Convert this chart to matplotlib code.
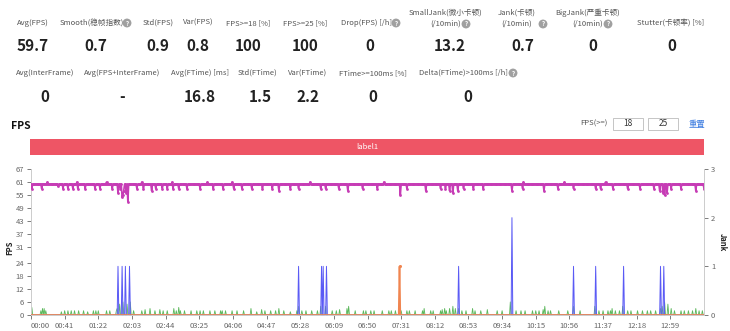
import numpy as np
import matplotlib.pyplot as plt
from matplotlib.patches import Rectangle

plt.rcParams['font.family'] = ['Noto Sans CJK SC', 'DejaVu Sans']

W, H = 730, 331

# summary numbers
row1_labels = ['Avg(FPS)', 'Smooth(稳帧指数)', 'Std(FPS)', 'Var(FPS)', 'FPS>=18 [%]', 'FPS>=25 [%]',
               'Drop(FPS) [/h]', 'SmallJank(微小卡顿)\n(/10min)', 'Jank(卡顿)\n(/10min)',
               'BigJank(严重卡顿)\n(/10min)', 'Stutter(卡顿率) [%]']
row1_values = ['59.7', '0.7', '0.9', '0.8', '100', '100', '0', '13.2', '0.7', '0', '0']
row2_labels = ['Avg(InterFrame)', 'Avg(FPS+InterFrame)', 'Avg(FTime) [ms]', 'Std(FTime)',
               'Var(FTime)', 'FTime>=100ms [%]', 'Delta(FTime)>100ms [/h]']
row2_values = ['0', '-', '16.8', '1.5', '2.2', '0', '0']

# chart data (seconds from start)
time_labels = ['00:00', '00:41', '01:22', '02:03', '02:44', '03:25', '04:06', '04:47', '05:28', '06:09',
               '06:50', '07:31', '08:12', '08:53', '09:34', '10:15', '10:56', '11:37', '12:18', '12:59']
duration = 820
fps_base = 60
fps_dip_t = [1, 13, 33, 39, 45, 51, 57, 66, 78, 84, 99, 106, 109, 111, 112, 113, 116, 118, 129, 137,
             147, 152, 160, 166, 173, 180, 190, 206, 222, 234, 247, 257, 269, 282, 294, 302, 316, 326,
             353, 359, 375, 386, 404, 422, 450, 458, 481, 499, 505, 510, 514, 520, 527, 539, 551, 586,
             599, 625, 642, 661, 688, 694, 709, 727, 742, 759, 766, 770, 772, 775, 780, 792, 810, 820,
             20, 56, 92, 135, 172, 215, 245, 340, 430, 600, 650, 700]
fps_dip_v = [58, 58, 59, 58, 58, 58, 58, 58, 58, 58, 58, 56, 58, 54, 55, 57, 56, 52, 58, 58,
             57, 58, 58, 58, 58, 58, 58, 58, 58, 58, 58, 58, 58, 58, 58, 57, 58, 58,
             58, 58, 58, 57, 58, 58, 55, 58, 57, 58, 58, 57, 56, 57, 58, 58, 58, 57,
             58, 57, 58, 58, 58, 58, 58, 58, 58, 58, 57, 56, 55, 56, 58, 58, 57, 58,
             61, 61, 61, 61, 61, 61, 61, 61, 61, 61, 61, 61]

jank_t = [106, 111, 115, 120, 326, 354, 356, 360, 521, 586, 661, 688, 722, 767, 771]
jank_v = [1, 1, 1, 1, 1, 1, 1, 1, 1, 2, 1, 1, 1, 1, 1]

big_t = [449]
big_v = [1]

green_t = [1, 12, 14, 16, 18, 37, 41, 45, 49, 53, 58, 64, 69, 76, 79, 82, 92, 96, 104, 105, 108, 112,
           117, 121, 125, 135, 139, 145, 151, 157, 161, 166, 174, 177, 180, 182, 187, 195, 202, 206,
           210, 218, 224, 231, 233, 237, 245, 251, 259, 268, 275, 281, 285, 292, 298, 302, 308, 316,
           324, 326, 330, 335, 342, 349, 353, 359, 367, 372, 376, 385, 387, 395, 405, 408, 414, 418,
           428, 436, 439, 444, 451, 458, 461, 468, 477, 479, 487, 490, 499, 501, 504, 506, 510, 514,
           517, 521, 525, 530, 538, 541, 548, 556, 568, 574, 584, 591, 597, 602, 611, 615, 619, 624,
           626, 630, 633, 643, 654, 661, 669, 687, 692, 697, 703, 706, 708, 712, 717, 721, 727, 731,
           739, 745, 751, 755, 761, 767, 769, 772, 776, 780, 784, 792, 796, 801, 806, 810, 814, 818]
green_v = [3.5, 2, 3, 3, 2, 1.5, 2, 2, 2, 2, 2, 2, 1.5, 2, 2, 2, 2, 2, 2, 3, 5, 6,
           5, 6, 2, 2, 2.5, 3, 2, 2.5, 2, 2, 3, 2, 3.5, 2, 2, 2, 2, 2,
           2, 2, 2, 2, 2, 2, 2, 2, 2, 3, 1.5, 2.5, 2, 2, 2, 3, 2, 1.5,
           2, 4, 2, 2, 2, 2, 4, 4, 2, 2, 2.5, 3, 4, 2, 2, 2, 2, 2,
           2, 2, 2, 2, 2, 2, 2, 2, 2, 3, 2, 2, 2, 2.5, 3, 2, 3, 4,
           3, 3, 2, 2, 3, 2, 2, 2.5, 2, 2, 6, 2, 2, 2, 2, 2, 2, 2.5,
           4, 2, 2, 2, 2, 4, 2, 4, 2, 2, 2, 2, 3, 2, 2, 4, 2, 2,
           2, 2, 2, 2, 2, 3, 4, 6, 5, 3, 2, 2, 2, 2, 2, 3, 2, 2]

fps_ticks = [0, 6, 12, 18, 24, 31, 37, 43, 49, 55, 61, 67]
jank_ticks = [0, 1, 2, 3]

# build per-second series
t = np.arange(duration + 1)
fps = np.full(t.shape, fps_base, dtype=float)
fps[fps_dip_t] = fps_dip_v
jank = np.zeros(t.shape)
jank[jank_t] = jank_v
big = np.zeros(t.shape)
big[big_t] = big_v
green = np.zeros(t.shape)
green[green_t] = green_v


def fx(x):
    return x / W


def fy(y):
    return 1 - y / H


fig = plt.figure(figsize=(W / 100, H / 100), dpi=100)

lab_c = '#555555'
val_c = '#222222'
icon = dict(boxstyle='circle,pad=0.15', fc='#a0a0a0', ec='none')


def help_icon(x, y):
    fig.text(fx(x), fy(y), '?', fontsize=4.5, color='white', ha='center', va='center',
             fontweight='bold', bbox=icon)


def label(x, y, txt):
    lines = txt.split('\n')
    if len(lines) == 1:
        fig.text(fx(x), fy(y), txt, fontsize=5.5, color=lab_c, ha='center', va='center')
    else:
        fig.text(fx(x), fy(y - 10), lines[0], fontsize=5.5, color=lab_c, ha='center', va='center')
        fig.text(fx(x), fy(y + 1), lines[1], fontsize=5.5, color=lab_c, ha='center', va='center')


row1_x = [33, 92, 158, 198, 248, 305, 366, 446, 517, 588, 671]
row1_val_x = [33, 96, 158, 198, 248, 305, 370, 450, 523, 593, 672]
for lab, val, x, vx in zip(row1_labels, row1_values, row1_x, row1_val_x):
    label(x, 23, lab)
    fig.text(fx(vx), fy(46), val, fontsize=11, fontweight='bold', color=val_c,
             ha='center', va='center')
for x, y in [(127, 23), (396, 23), (466, 24), (543, 24), (608, 24)]:
    help_icon(x, y)

row2_x = [45, 122, 200, 258, 308, 373, 463]
row2_val_x = [45, 122, 200, 260, 308, 373, 468]
for lab, val, x, vx in zip(row2_labels, row2_values, row2_x, row2_val_x):
    label(x, 73, lab)
    fig.text(fx(vx), fy(97), val, fontsize=11, fontweight='bold', color=val_c,
             ha='center', va='center')
help_icon(513, 73)

# chart header
fig.text(fx(11), fy(126), 'FPS', fontsize=7.5, fontweight='bold', color='#111111',
         ha='left', va='center')
fig.text(fx(608), fy(124), 'FPS(>=)', fontsize=5.5, color=lab_c, ha='right', va='center')
for x0, txt in [(613, '18'), (648, '25')]:
    fig.patches.append(Rectangle((fx(x0), fy(130)), 30 / W, 12 / H, transform=fig.transFigure,
                                 fc='white', ec='#bbbbbb', lw=0.6))
    fig.text(fx(x0 + 15), fy(124), txt, fontsize=6, color='#333333', ha='center', va='center')
fig.text(fx(697), fy(124), '重置', fontsize=6, color='#3a7be0', ha='center', va='center')

fig.patches.append(Rectangle((fx(30), fy(155)), 674 / W, 16 / H, transform=fig.transFigure,
                             fc='#ee5565', ec='none'))
fig.text(fx(367), fy(147), 'label1', fontsize=5.5, color='white', ha='center', va='center')

# plot area
ax = fig.add_axes([fx(31), fy(315), 673 / W, 146 / H])
ax2 = ax.twinx()

ax.plot(t, fps, color='#c63cb5', lw=1.2, marker='o', ms=2.0, mew=0, zorder=3)
ax.fill_between(t, green, color='#7dc97d', alpha=0.35, lw=0)
ax.plot(t, green, color='#5cb85c', lw=0.6)

ax2.fill_between(t, jank, color='#9a9aff', alpha=0.45, lw=0)
ax2.plot(t, jank, color='#5a5af5', lw=0.7)
ax2.fill_between(t, big, color='#f3a07a', alpha=0.3, lw=0)
ax2.plot(t, big, color='#f08550', lw=1.2, marker='o', ms=2.2, mew=0,
         markevery=[int(i) for i in big_t])

ax.set_xlim(0, duration)
ax.set_ylim(0, 67)
ax2.set_ylim(0, 3)

tick_pos = [int(s[:2]) * 60 + int(s[3:]) for s in time_labels]
ax.set_xticks(tick_pos)
ax.set_xticklabels(time_labels)
ax.get_xticklabels()[0].set_ha('left')
ax.set_yticks(fps_ticks)
ax2.set_yticks(jank_ticks)

for a in (ax, ax2):
    a.tick_params(labelsize=5.5, colors='#666666', length=3, width=0.6, pad=2)
    for s in a.spines.values():
        s.set_color('#cccccc')
        s.set_linewidth(0.7)
    a.spines['top'].set_visible(False)
ax.spines['right'].set_visible(False)
ax2.spines['left'].set_visible(False)
ax2.spines['bottom'].set_visible(False)

fig.text(fx(10), fy(248), 'FPS', fontsize=5.5, fontweight='bold', rotation=90,
         ha='center', va='center', color='#222222')
fig.text(fx(722), fy(242), 'Jank', fontsize=5.5, fontweight='bold', rotation=-90,
         ha='center', va='center', color='#222222')

fig.savefig('out.png', dpi=100)
